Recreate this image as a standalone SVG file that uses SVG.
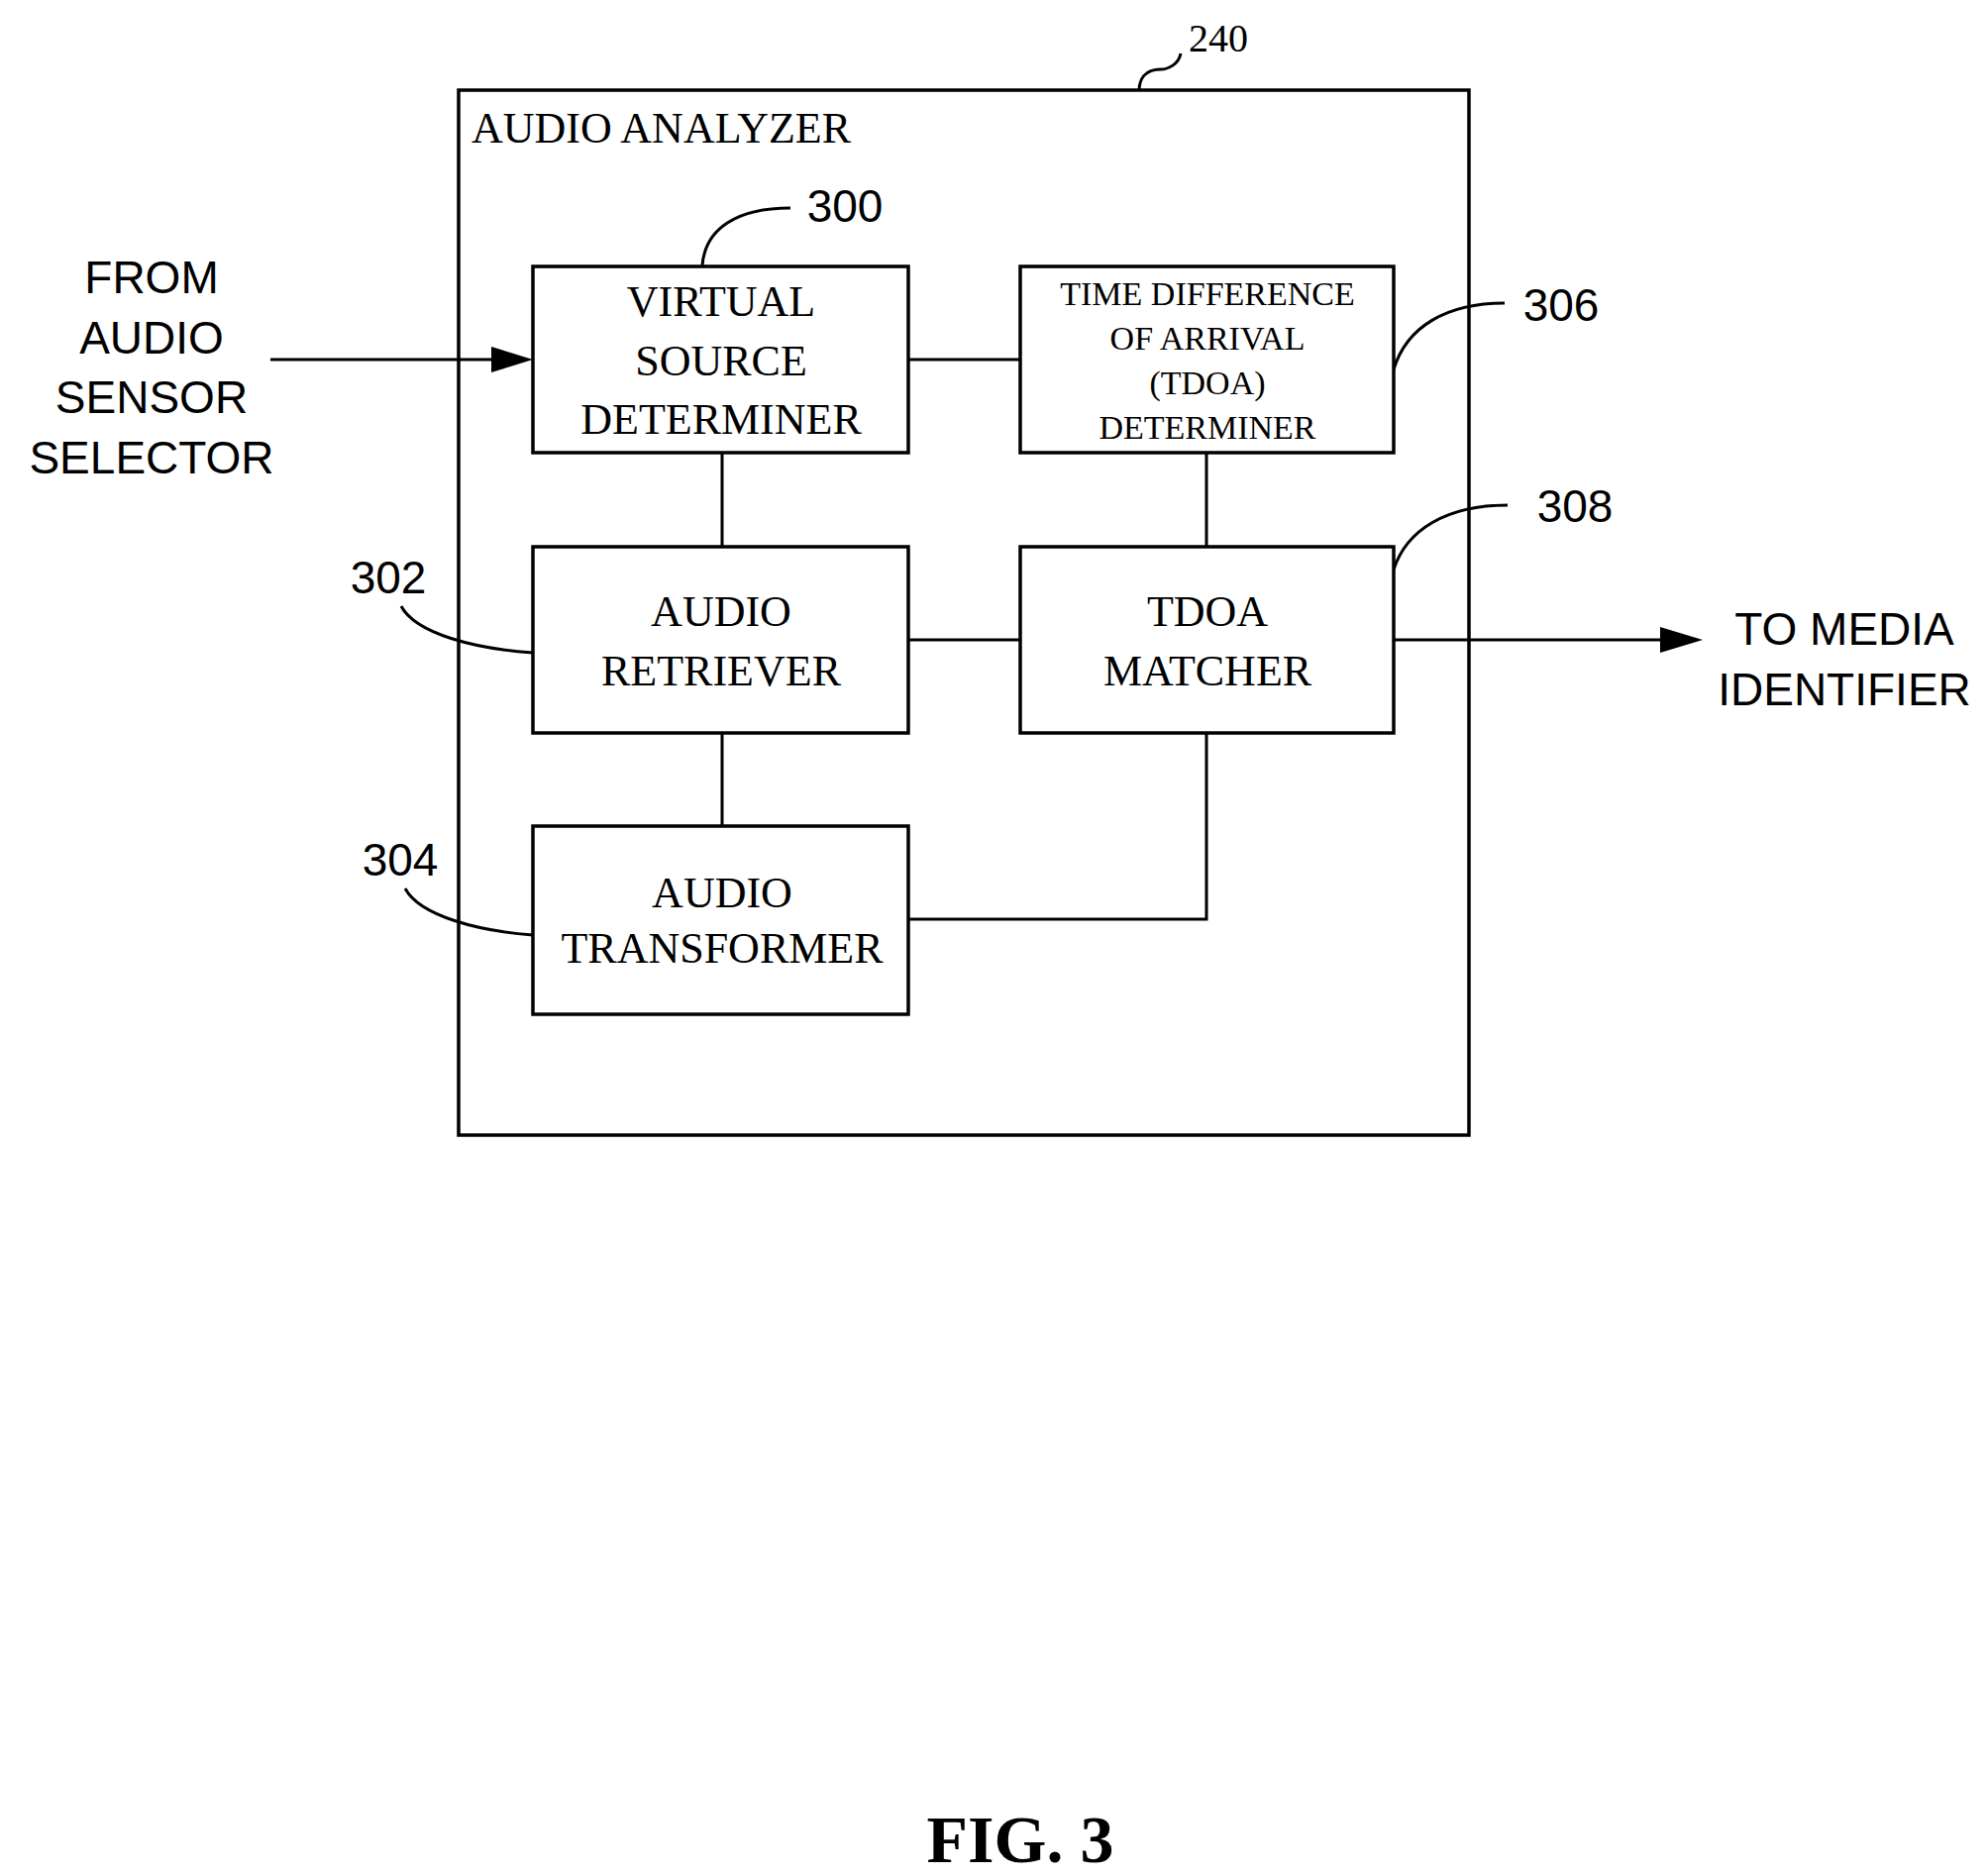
<svg xmlns="http://www.w3.org/2000/svg" width="2006" height="1894" viewBox="0 0 2006 1894">
<style>
.b{fill:#fff;stroke:#000;stroke-width:3.5}
.l{fill:none;stroke:#000;stroke-width:3}
.s{font-family:"Times New Roman","Liberation Serif",serif;text-anchor:middle;font-size:44px}
.t{font-family:"Liberation Sans",Arial,sans-serif;font-size:46px;text-anchor:middle}
</style>
<defs><marker id="a" markerWidth="10" markerHeight="8" refX="10" refY="4" orient="auto" markerUnits="userSpaceOnUse" viewBox="0 0 10 8"><path d="M0,0L10,4L0,8z"/></marker></defs>
<rect width="2006" height="1894" fill="#fff"/>
<g id="analyzer"><rect class="b" x="463" y="91" width="1020" height="1055"/>
<text class="s" x="476" y="144" style="text-anchor:start">AUDIO ANALYZER</text>
<text class="s" x="1230" y="52" style="font-size:40px">240</text>
<path class="l" d="M1150,92c0,-20 15,-22 22,-22s18,-5 20,-16"/></g>
<g id="connectors">
<path class="l" d="M917,363H1030M729,457V552M729,740V834M1218,457V552M917,646H1030M917,928H1218V740"/>
<path class="l" d="M273,363H500" stroke-width="3.5"/><path d="M496,350L538,363L496,376z"/>
<path class="l" d="M1407,646H1680" stroke-width="3.5"/><path d="M1676,633L1719,646L1676,659z"/>
<path class="l" d="M709,268C712,230 745,210 798,210"/>
<path class="l" d="M1407,373C1420,330 1460,306 1519,306"/>
<path class="l" d="M1407,575C1420,535 1460,510 1522,510"/>
<path class="l" d="M405,612C420,640 480,655 538,659"/>
<path class="l" d="M409,897C424,925 484,940 538,944"/>
</g>
<g id="vsd"><rect class="b" x="538" y="269" width="379" height="188"/>
<text class="s" x="728" y="319">VIRTUAL</text><text class="s" x="728" y="379">SOURCE</text><text class="s" x="728" y="438">DETERMINER</text>
<text class="t" x="853" y="224">300</text></g>
<g id="tdoa"><rect class="b" x="1030" y="269" width="377" height="188"/>
<g class="s" style="font-size:34px"><text x="1219" y="308">TIME DIFFERENCE</text><text x="1219" y="353">OF ARRIVAL</text><text x="1219" y="398">(TDOA)</text><text x="1219" y="443">DETERMINER</text></g>
<text class="t" x="1576" y="324">306</text></g>
<g id="retriever"><rect class="b" x="538" y="552" width="379" height="188"/>
<text class="s" x="728" y="632">AUDIO</text><text class="s" x="728" y="692">RETRIEVER</text>
<text class="t" x="392" y="599">302</text></g>
<g id="matcher"><rect class="b" x="1030" y="552" width="377" height="188"/>
<text class="s" x="1219" y="632">TDOA</text><text class="s" x="1219" y="692">MATCHER</text>
<text class="t" x="1590" y="527">308</text></g>
<g id="transformer"><rect class="b" x="538" y="834" width="379" height="190"/>
<text class="s" x="729" y="916">AUDIO</text><text class="s" x="729" y="972">TRANSFORMER</text>
<text class="t" x="404" y="884">304</text></g>
<g id="input"><text class="t" x="153" y="296">FROM</text><text class="t" x="153" y="357">AUDIO</text><text class="t" x="153" y="417">SENSOR</text><text class="t" x="153" y="478">SELECTOR</text></g>
<g id="output"><text class="t" x="1862" y="651">TO MEDIA</text><text class="t" x="1862" y="712">IDENTIFIER</text></g>
<text x="1030" y="1880" style="font-family:'Times New Roman','Liberation Serif',serif;font-weight:bold;font-size:68px;text-anchor:middle">FIG. 3</text>
</svg>
